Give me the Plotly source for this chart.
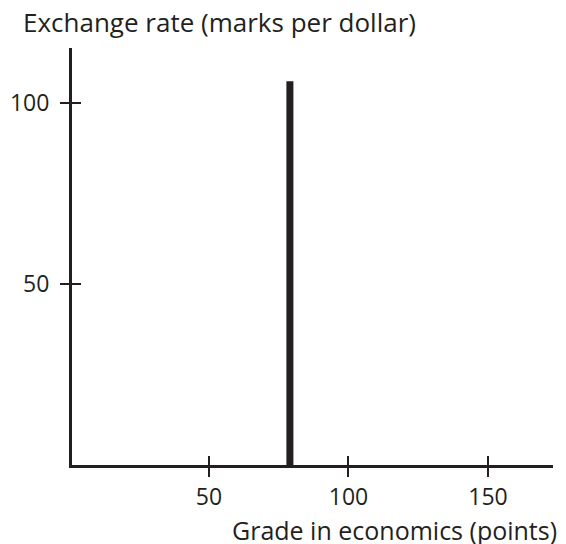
import plotly.graph_objects as go

# Data
grade = [79, 79]
exchange_rate = [0, 106]
x_ticks = [50, 100, 150]
y_ticks = [50, 100]
x_range = [0.9, 173.3]
y_range = [0, 115.2]

ink = "#231f20"
font = dict(family="Open Sans, Lato, sans-serif", size=23, color=ink)
title_font = dict(family="Open Sans, Lato, sans-serif", size=26, color=ink)
xtitle_font = dict(family="Open Sans, Lato, sans-serif", size=25, color=ink)

fig = go.Figure()
fig.add_trace(go.Scatter(x=grade, y=exchange_rate, mode="lines",
                         line=dict(color=ink, width=7), showlegend=False,
                         hoverinfo="skip"))
# empty trace so the overlay axes (inner half of crossing ticks) are drawn
fig.add_trace(go.Scatter(x=[], y=[], xaxis="x2", yaxis="y2", showlegend=False,
                         hoverinfo="skip"))

axis_common = dict(showgrid=False, zeroline=False, linecolor=ink, linewidth=3,
                   ticks="outside", ticklen=9, tickwidth=1.5, tickcolor=ink,
                   tickfont=font, showline=True, automargin=False)

fig.update_layout(
    width=558, height=536,
    margin=dict(l=64, r=13, t=40, b=79),
    paper_bgcolor="white", plot_bgcolor="white",
    font=font,
    xaxis=dict(range=x_range, tickvals=x_ticks, ticklabelstandoff=0, **axis_common),
    yaxis=dict(range=y_range, tickvals=y_ticks, ticklabelstandoff=6, **axis_common),
    xaxis2=dict(range=x_range, tickvals=x_ticks, overlaying="x", anchor="y2",
                showticklabels=False, showgrid=False, zeroline=False, showline=False,
                ticks="inside", ticklen=9, tickwidth=1.5, tickcolor=ink, automargin=False),
    yaxis2=dict(range=y_range, tickvals=y_ticks, overlaying="y", anchor="x2",
                showticklabels=False, showgrid=False, zeroline=False, showline=False,
                ticks="inside", ticklen=9, tickwidth=1.5, tickcolor=ink, automargin=False),
    annotations=[
        dict(text="Exchange rate (marks per dollar)", xref="paper", yref="paper",
             x=-0.106, y=1.0624, xanchor="left", yanchor="middle",
             showarrow=False, font=title_font),
        dict(text="Grade in economics (points)", xref="paper", yref="paper",
             x=1.012, y=-0.156, xanchor="right", yanchor="middle",
             showarrow=False, font=xtitle_font),
    ],
)
fig.write_html("out.html")
